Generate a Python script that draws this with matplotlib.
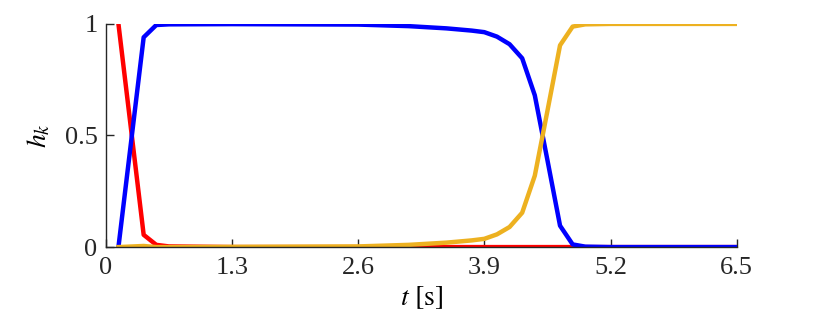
import matplotlib
matplotlib.use("Agg")
import matplotlib.pyplot as plt

plt.rcParams['font.family'] = 'serif'
plt.rcParams['font.serif'] = ['Liberation Serif', 'DejaVu Serif']
plt.rcParams['mathtext.fontset'] = 'stix'

# sample times [s] and mode weights h_k
t = [0.13, 0.39, 0.52, 0.65, 1.3, 2.6, 3.12, 3.51, 3.77, 3.9, 4.03, 4.16,
     4.29, 4.42, 4.55, 4.68, 4.81, 4.94, 5.2, 6.5]
h_red = [1.0, 0.055, 0.01, 0.003, 0.0, 0.0, 0.0, 0.0, 0.0, 0.0, 0.0, 0.0,
         0.0, 0.0, 0.0, 0.0, 0.0, 0.0, 0.0, 0.0]
h_blue = [0.0, 0.94, 0.995, 0.998, 0.999, 0.997, 0.99, 0.98, 0.97, 0.963,
          0.943, 0.909, 0.846, 0.68, 0.39, 0.096, 0.012, 0.002, 0.0, 0.0]
h_orange = [0.0, 0.005, 0.0, 0.0, 0.001, 0.003, 0.01, 0.02, 0.03, 0.037,
            0.057, 0.09, 0.154, 0.32, 0.61, 0.904, 0.988, 0.998, 1.0, 1.0]

xticks = [0, 1.3, 2.6, 3.9, 5.2, 6.5]
yticks = [0, 0.5, 1]

fig = plt.figure(figsize=(8.14, 3.23), dpi=100)
ax = fig.add_axes([0.130, 0.235, 0.775, 0.691])

ax.plot(t, h_red, color=(1, 0, 0), lw=3.2)
ax.plot(t, h_blue, color=(0, 0, 1), lw=3.2)
ax.plot(t, h_orange, color='#EDB120', lw=3.2)

ax.set_xlim(0, 6.5)
ax.set_ylim(0, 1)
ax.set_xticks(xticks)
ax.set_xticklabels(['0', '1.3', '2.6', '3.9', '5.2', '6.5'])
ax.set_yticks(yticks)
ax.set_yticklabels(['0', '0.5', '1'])
ax.tick_params(direction='in', length=6, width=1, labelsize=19, colors='#262626')
ax.tick_params(axis='x', pad=7)
ax.tick_params(axis='y', pad=6)
for s in ['top', 'right']:
    ax.spines[s].set_visible(False)
for s in ['left', 'bottom']:
    ax.spines[s].set_color('#262626')
    ax.spines[s].set_linewidth(1)

ax.set_xlabel('$t\\ [\\mathrm{s}]$', fontsize=20, labelpad=4)
ax.set_ylabel('$h_k$', fontsize=20, labelpad=9)

fig.savefig('out.png', dpi=100)
